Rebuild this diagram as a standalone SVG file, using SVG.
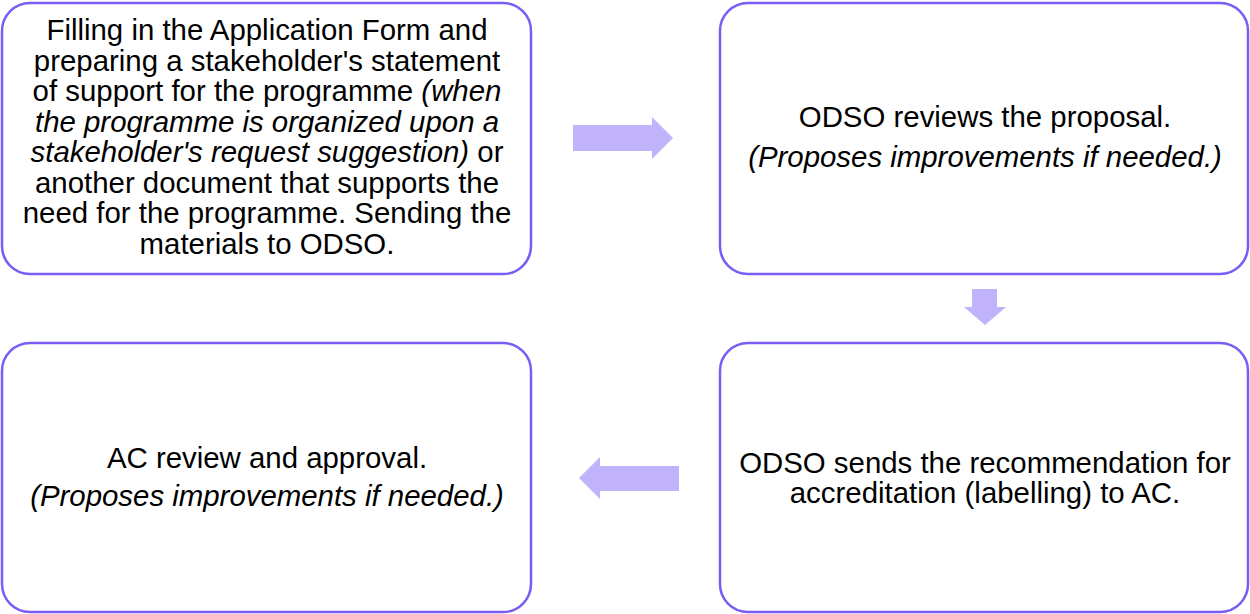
<svg xmlns="http://www.w3.org/2000/svg" width="1250" height="614" viewBox="0 0 1250 614">
<style>
.box{fill:#ffffff;stroke:#7b5cf4;stroke-width:2.5}
.t{font-family:"Liberation Sans",Arial,sans-serif;font-size:29.4px;fill:#000;text-anchor:middle}
.i{font-style:italic}
.arr{fill:#c0b3fc}
</style>
<rect width="1250" height="614" fill="#ffffff"/>
<g id="node-application">
<rect class="box" x="2" y="3" width="529" height="271" rx="28" ry="28"/>
<text class="t" x="267" y="40">Filling in the Application Form and</text>
<text class="t" x="267" y="70.5">preparing a stakeholder's statement</text>
<text class="t" x="267" y="101">of support for the programme <tspan class="i">(when</tspan></text>
<text class="t i" x="267" y="131.5">the programme is organized upon a</text>
<text class="t" x="267" y="162"><tspan class="i">stakeholder's request suggestion)</tspan> or</text>
<text class="t" x="267" y="192.5">another document that supports the</text>
<text class="t" x="267" y="223">need for the programme. Sending the</text>
<text class="t" x="267" y="253.5">materials to ODSO.</text>
</g>
<g id="node-odso-review">
<rect class="box" x="720" y="3" width="528" height="271" rx="28" ry="28"/>
<text class="t" x="985" y="127">ODSO reviews the proposal.</text>
<text class="t i" x="985" y="167">(Proposes improvements if needed.)</text>
</g>
<g id="node-odso-sends">
<rect class="box" x="720" y="343" width="528" height="269" rx="28" ry="28"/>
<text class="t" x="985" y="473">ODSO sends the recommendation for</text>
<text class="t" x="985" y="503">accreditation (labelling) to AC.</text>
</g>
<g id="node-ac-review">
<rect class="box" x="2" y="343" width="529" height="269" rx="28" ry="28"/>
<text class="t" x="267" y="468">AC review and approval.</text>
<text class="t i" x="267" y="506">(Proposes improvements if needed.)</text>
</g>
<g id="connectors">
<polygon class="arr" points="573,125 652,125 652,117 673,138 652,159 652,151 573,151"/>
<polygon class="arr" points="972,289 997,289 997,307 1006,307 985,325 964,307 972,307"/>
<polygon class="arr" points="679,466 600,466 600,457 579,478 600,499 600,491 679,491"/>
</g>
</svg>
